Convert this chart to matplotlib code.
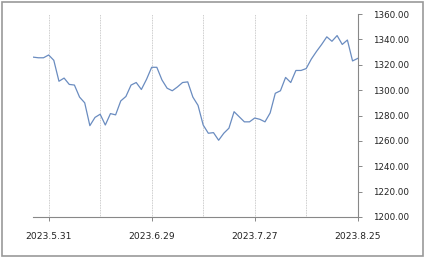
import matplotlib
matplotlib.use("Agg")
import matplotlib.pyplot as plt
from matplotlib.patches import Rectangle
import numpy as np

values = [1326, 1325.5, 1325.5, 1327.7, 1323.5, 1307, 1309.5, 1304.5, 1304, 1294.5,
          1290, 1272, 1278.5, 1281, 1272.5, 1281.5, 1280.5, 1291.5, 1295, 1304,
          1306, 1300.5, 1308.5, 1318, 1318, 1308, 1301.5, 1299.5, 1302.5, 1306,
          1306.5, 1294.5, 1288, 1272.5, 1266, 1266.5, 1260.5, 1266, 1270, 1283,
          1279, 1275, 1275, 1278, 1277, 1275, 1282, 1297.5, 1299.5, 1310,
          1306, 1315.5, 1315.5, 1317, 1324.5, 1330.5, 1336, 1342, 1338.5, 1343,
          1336, 1339.5, 1323, 1325]
tick_labels = ["2023.5.31", "2023.6.29", "2023.7.27", "2023.8.25"]
tick_pos = [3, 23, 43, 63]
grid_pos = [3, 13, 23, 33, 43, 53, 63]
yticks = [1200, 1220, 1240, 1260, 1280, 1300, 1320, 1340, 1360]

W, H = 424, 257
fig = plt.figure(figsize=(W / 100, H / 100), dpi=100)
fig.patches.append(Rectangle((1.5 / W, 1.5 / H), (W - 3) / W, (H - 3) / H,
                             transform=fig.transFigure, fill=False,
                             edgecolor="#999999", linewidth=1.2))
ax = fig.add_axes([33.2 / W, 40 / H, (357.7 - 33.2) / W, (217 - 14) / H])
x = np.arange(len(values))
ax.plot(x, values, color="#6a8cc0", linewidth=0.9)
ax.set_xlim(0, len(values) - 1)
ax.set_ylim(1200, 1360)

for g in grid_pos:
    ax.axvline(g, color="#bbbbbb", linestyle=(0, (1, 1)), linewidth=0.6, zorder=0)

for s in ["top", "left"]:
    ax.spines[s].set_visible(False)
for s in ["bottom", "right"]:
    ax.spines[s].set_color("#888888")
    ax.spines[s].set_linewidth(0.8)

ax.yaxis.tick_right()
ax.set_yticks(yticks)
ax.set_yticklabels([f"{v:.2f}" for v in yticks])
ax.set_xticks(tick_pos)
ax.set_xticklabels(tick_labels)
ax.tick_params(axis="y", direction="out", length=3, width=0.7, color="#888888",
               labelsize=6.3, pad=8, labelcolor="#222222")
ax.tick_params(axis="x", direction="out", length=3, width=0.7, color="#888888",
               labelsize=6.6, pad=8, labelcolor="#222222")

fig.savefig("out.png", dpi=100)
